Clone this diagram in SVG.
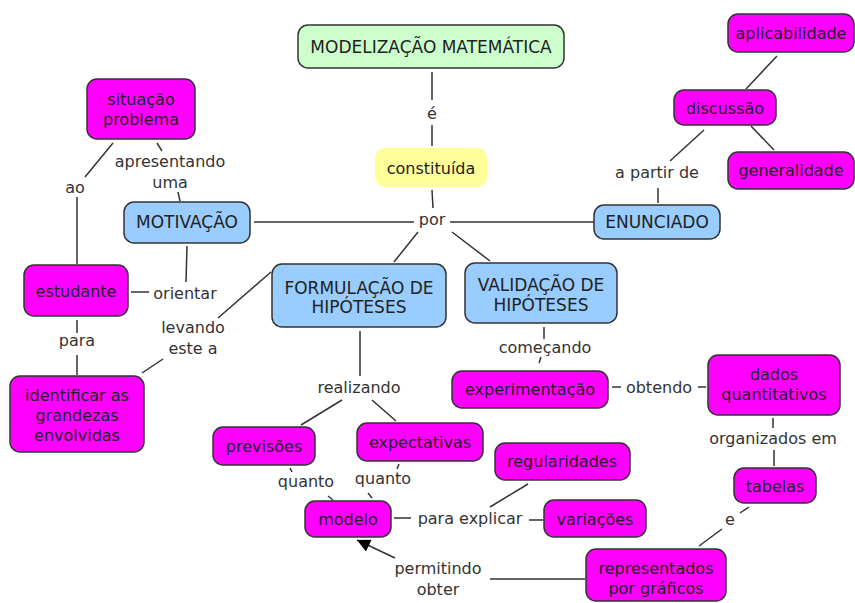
<svg xmlns="http://www.w3.org/2000/svg" width="855" height="603" viewBox="0 0 855 603">
<defs>
<style>
.n rect{stroke:#333;stroke-width:1.5}
.m rect{fill:#ff00ff}
.b rect{fill:#99ccff}
.g rect{fill:#ccffcc}
.y rect{fill:#ffff99;stroke:none}
.n text{font-family:"DejaVu Sans",Verdana,sans-serif;font-size:16px;fill:#222;text-anchor:middle}
.b text,.g text{font-size:17px}
.lbl text{font-family:"DejaVu Sans",Verdana,sans-serif;font-size:16px;fill:#333;text-anchor:middle}
.c line{stroke:#333;stroke-width:1.5;fill:none}
</style>
<marker id="ah" viewBox="0 0 10 10" refX="10" refY="5" markerWidth="15" markerHeight="13" markerUnits="userSpaceOnUse" orient="auto">
<path d="M0,0 L10,5 L0,10 z" fill="#000"/>
</marker>
</defs>
<rect width="855" height="603" fill="#fff"/>
<g id="connectors" class="c">
<line x1="432" y1="72" x2="432" y2="100"/>
<line x1="432" y1="125" x2="432" y2="146"/>
<line x1="432" y1="190" x2="433" y2="208"/>
<line x1="254" y1="222" x2="414" y2="222"/>
<line x1="450" y1="222" x2="594" y2="222"/>
<line x1="418" y1="232" x2="394" y2="262"/>
<line x1="452" y1="232" x2="490" y2="261"/>
<line x1="113" y1="143" x2="85" y2="177"/>
<line x1="77" y1="197" x2="77" y2="264"/>
<line x1="157" y1="143" x2="162" y2="151"/>
<line x1="178" y1="192" x2="180" y2="201"/>
<line x1="187" y1="246" x2="186" y2="282"/>
<line x1="131" y1="292" x2="149" y2="292"/>
<line x1="77" y1="320" x2="77" y2="333"/>
<line x1="77" y1="355" x2="77" y2="375"/>
<line x1="271" y1="272" x2="218" y2="318"/>
<line x1="163" y1="359" x2="142" y2="373"/>
<line x1="360" y1="331" x2="360" y2="376"/>
<line x1="342" y1="400" x2="301" y2="425"/>
<line x1="372" y1="400" x2="396" y2="421"/>
<line x1="544" y1="327" x2="544" y2="339"/>
<line x1="541" y1="357" x2="539" y2="363"/>
<line x1="612" y1="387" x2="621" y2="387"/>
<line x1="698" y1="387" x2="706" y2="387"/>
<line x1="773" y1="418" x2="773" y2="428"/>
<line x1="774" y1="450" x2="774" y2="466"/>
<line x1="749" y1="507" x2="740" y2="513"/>
<line x1="722" y1="529" x2="699" y2="546"/>
<line x1="490" y1="579" x2="585" y2="579"/>
<line x1="395" y1="558" x2="357" y2="540" marker-end="url(#ah)"/>
<line x1="290" y1="468" x2="292" y2="472"/>
<line x1="328" y1="496" x2="333" y2="500"/>
<line x1="399" y1="464" x2="397" y2="469"/>
<line x1="368" y1="493" x2="372" y2="498"/>
<line x1="394" y1="518" x2="411" y2="518"/>
<line x1="529" y1="520" x2="543" y2="520"/>
<line x1="490" y1="507" x2="528" y2="484"/>
<line x1="658" y1="188" x2="658" y2="203"/>
<line x1="670" y1="161" x2="704" y2="130"/>
<line x1="746" y1="89" x2="777" y2="56"/>
<line x1="751" y1="126" x2="774" y2="150"/>
</g>
<g class="lbl">
<text x="432" y="119">é</text>
<text x="432" y="225">por</text>
<text x="75" y="193">ao</text>
<text x="170" y="167">apresentando</text>
<text x="170" y="188">uma</text>
<text x="185" y="299">orientar</text>
<text x="77" y="346">para</text>
<text x="193" y="333">levando</text>
<text x="193" y="354">este a</text>
<text x="359" y="393">realizando</text>
<text x="545" y="353">começando</text>
<text x="659" y="393">obtendo</text>
<text x="773" y="444">organizados em</text>
<text x="730" y="525">e</text>
<text x="306" y="487">quanto</text>
<text x="383" y="484">quanto</text>
<text x="470" y="524">para explicar</text>
<text x="438" y="574">permitindo</text>
<text x="438" y="595">obter</text>
<text x="657" y="178">a partir de</text>
</g>
<g id="modelizacao" class="n g"><rect x="298" y="25" width="266" height="43" rx="10"/><text x="431" y="53">MODELIZAÇÃO MATEMÁTICA</text></g>
<g id="constituida" class="n y"><rect x="375" y="148" width="112" height="39" rx="10"/><text x="431" y="174">constituída</text></g>
<g id="motivacao" class="n b"><rect x="124" y="202" width="126" height="41" rx="10"/><text x="187" y="228">MOTIVAÇÃO</text></g>
<g id="situacao" class="n m"><rect x="87" y="79" width="108" height="60" rx="10"/><text x="141" y="105">situação</text><text x="141" y="125">problema</text></g>
<g id="estudante" class="n m"><rect x="24" y="265" width="104" height="51" rx="10"/><text x="76" y="297">estudante</text></g>
<g id="identificar" class="n m"><rect x="10" y="376" width="134" height="76" rx="10"/><text x="77" y="401">identificar as</text><text x="77" y="421">grandezas</text><text x="77" y="441">envolvidas</text></g>
<g id="formulacao" class="n b"><rect x="272" y="264" width="174" height="63" rx="10"/><text x="359" y="294">FORMULAÇÃO DE</text><text x="359" y="313">HIPÓTESES</text></g>
<g id="validacao" class="n b"><rect x="465" y="263" width="152" height="60" rx="10"/><text x="541" y="291">VALIDAÇÃO DE</text><text x="541" y="311">HIPÓTESES</text></g>
<g id="experimentacao" class="n m"><rect x="452" y="371" width="156" height="37" rx="10"/><text x="530" y="395">experimentação</text></g>
<g id="dados" class="n m"><rect x="708" y="355" width="132" height="60" rx="10"/><text x="774" y="380">dados</text><text x="774" y="400">quantitativos</text></g>
<g id="tabelas" class="n m"><rect x="734" y="468" width="82" height="35" rx="10"/><text x="775" y="492">tabelas</text></g>
<g id="representados" class="n m"><rect x="586" y="549" width="140" height="52" rx="10"/><text x="656" y="574">representados</text><text x="656" y="594">por gráficos</text></g>
<g id="regularidades" class="n m"><rect x="495" y="443" width="135" height="37" rx="10"/><text x="562" y="467">regularidades</text></g>
<g id="variacoes" class="n m"><rect x="544" y="500" width="102" height="37" rx="10"/><text x="595" y="525">variações</text></g>
<g id="modelo" class="n m"><rect x="305" y="501" width="86" height="36" rx="10"/><text x="348" y="525">modelo</text></g>
<g id="previsoes" class="n m"><rect x="213" y="427" width="102" height="38" rx="10"/><text x="264" y="452">previsões</text></g>
<g id="expectativas" class="n m"><rect x="357" y="423" width="126" height="38" rx="10"/><text x="420" y="448">expectativas</text></g>
<g id="enunciado" class="n b"><rect x="594" y="205" width="126" height="34" rx="10"/><text x="657" y="228">ENUNCIADO</text></g>
<g id="discussao" class="n m"><rect x="674" y="90" width="102" height="35" rx="10"/><text x="725" y="114">discussão</text></g>
<g id="aplicabilidade" class="n m"><rect x="728" y="14" width="126" height="38" rx="10"/><text x="791" y="39">aplicabilidade</text></g>
<g id="generalidade" class="n m"><rect x="728" y="152" width="126" height="37" rx="10"/><text x="791" y="176">generalidade</text></g>
</svg>
